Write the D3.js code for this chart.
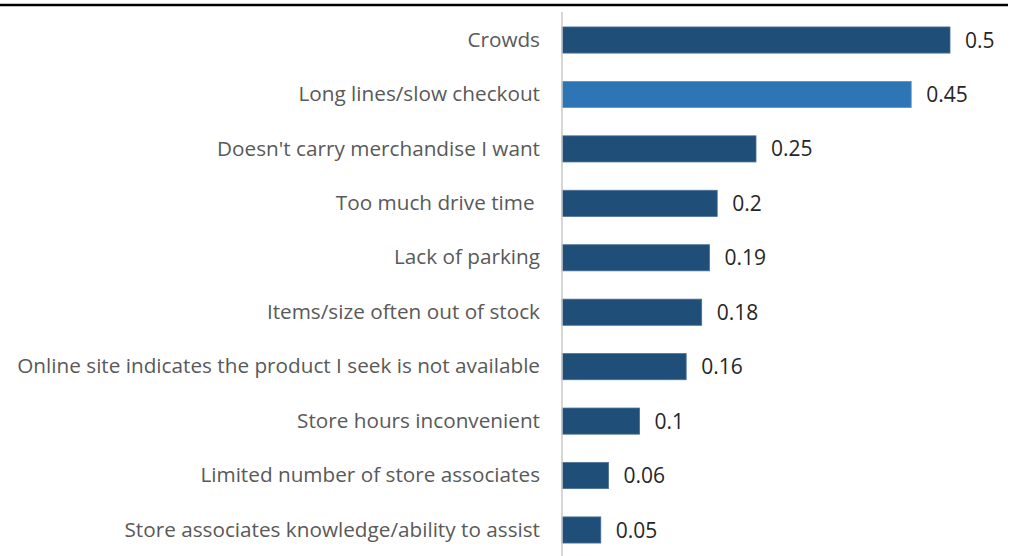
<!DOCTYPE html>
<html>
<head>
<meta charset="utf-8">
<script src="https://cdn.jsdelivr.net/npm/d3@7"></script>
<style>
  html, body { margin: 0; padding: 0; background: #fff; }
  .tick text { white-space: pre; }
</style>
</head>
<body>
<div id="chart"></div>
<script>
// chart data
const categories = [
  "Crowds",
  "Long lines/slow checkout",
  "Doesn't carry merchandise I want",
  "Too much drive time ",
  "Lack of parking",
  "Items/size often out of stock",
  "Online site indicates the product I seek is not available",
  "Store hours inconvenient",
  "Limited number of store associates",
  "Store associates knowledge/ability to assist"
];
const values = [0.5, 0.45, 0.25, 0.2, 0.19, 0.18, 0.16, 0.1, 0.06, 0.05];
const valueLabels = ["0.5", "0.45", "0.25", "0.2", "0.19", "0.18", "0.16", "0.1", "0.06", "0.05"];
const highlighted = "Long lines/slow checkout";

const width = 1015, height = 556;
const axisX = 562;

const svg = d3.select("#chart")
  .append("svg")
  .attr("width", width)
  .attr("height", height)
  .style("font-family", "'Open Sans', 'Noto Sans', sans-serif");

const x = d3.scaleLinear()
  .domain([0, 0.5])
  .range([axisX, 950]);

const y = d3.scaleBand()
  .domain(categories)
  .range([12.8, 557.2])
  .paddingInner(0.52)
  .paddingOuter(0.26);

// top rule
svg.append("line")
  .attr("x1", 0).attr("x2", 1008)
  .attr("y1", 5).attr("y2", 5)
  .attr("stroke", "#000")
  .attr("stroke-width", 2.5);

// bars
svg.append("g")
  .selectAll("rect")
  .data(categories)
  .join("rect")
    .attr("x", x(0))
    .attr("y", d => y(d))
    .attr("height", y.bandwidth())
    .attr("width", (d, i) => x(values[i]) - x(0))
    .attr("fill", d => d === highlighted ? "#2e75b6" : "#1f4e79")
    .attr("stroke", d => d === highlighted ? "#5b93c7" : "#4a6f94")
    .attr("stroke-width", 0.8);

// category axis
const yAxis = svg.append("g")
  .attr("transform", `translate(${axisX},0)`)
  .call(d3.axisLeft(y).tickSize(0).tickPadding(22))
  .call(g => g.select(".domain").remove());

yAxis.append("line")
  .attr("x1", 0).attr("x2", 0)
  .attr("y1", 12).attr("y2", height)
  .attr("stroke", "#c8c8c8")
  .attr("stroke-width", 1.5);

const tickText = yAxis.selectAll(".tick text")
  .attr("fill", "#595959")
  .attr("font-family", "'Open Sans', 'Noto Sans', sans-serif")
  .attr("font-size", "20px");

// fit longest label to the reference width
let widest = 0;
tickText.each(function () { widest = Math.max(widest, this.getComputedTextLength()); });
const fs = 20 * 523 / widest;
tickText.attr("font-size", fs + "px");

// value labels
svg.append("g")
  .selectAll("text")
  .data(categories)
  .join("text")
    .attr("x", (d, i) => x(values[i]) + 15)
    .attr("y", d => y(d) + y.bandwidth() / 2)
    .attr("dy", "0.36em")
    .attr("fill", "#262626")
    .attr("font-size", "21px")
    .text((d, i) => valueLabels[i]);
</script>
</body>
</html>
